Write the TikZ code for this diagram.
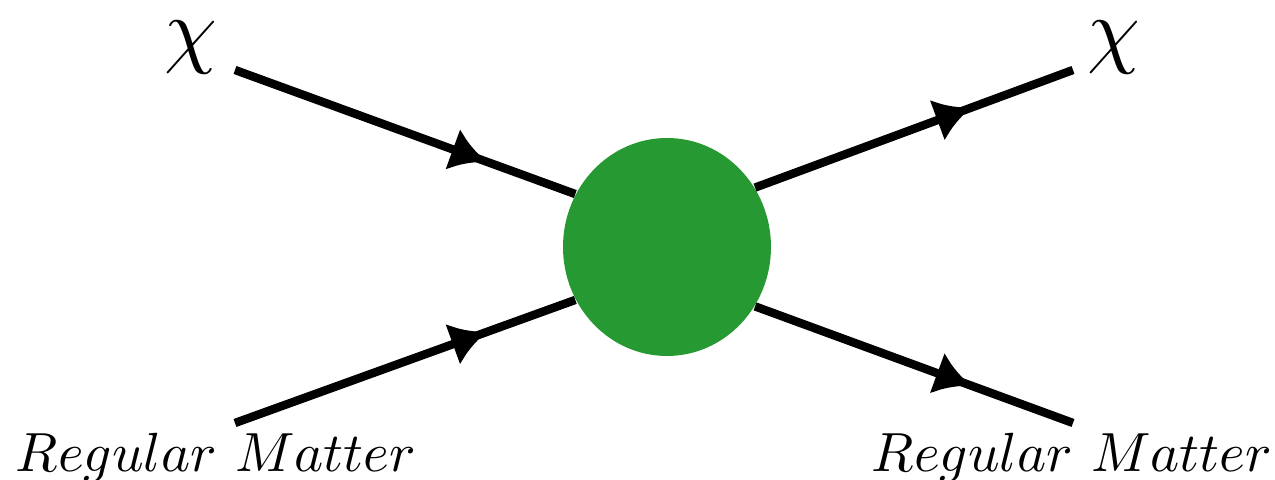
\documentclass[tikz,border=0pt]{standalone}
\usepackage{amsmath, amssymb}
\usepackage{tikz}
\usetikzlibrary{arrows.meta, positioning, shapes.geometric, decorations.markings}

\definecolor{blobgreen}{RGB}{38,153,50}

\begin{document}
\begin{tikzpicture}[
    leg/.style={line width=2.4pt, black},
    legarrow/.style={postaction={decorate, decoration={markings,
      mark=at position #1 with {\arrow{Latex[length=3.6mm, width=4.4mm]}}}}},
    chilabel/.style={scale=2.4, inner sep=0pt},
    matterlabel/.style={scale=1.57, inner sep=0pt, anchor=base}
  ]
  \useasboundingbox (0,0) rectangle (12.75,4.8);
  % interaction blob
  \node[ellipse, fill=blobgreen, minimum width=2.08cm, minimum height=2.18cm, inner sep=0pt] (blob) at (6.67,2.33) {};
  % external legs
  \coordinate (chiin) at (2.35,4.10);
  \coordinate (smin) at (2.35,0.57);
  \coordinate (chiout) at (10.73,4.10);
  \coordinate (smout) at (10.73,0.57);
  \draw[leg, legarrow=0.74] (chiin) -- (blob.150);
  \draw[leg, legarrow=0.74] (smin) -- (blob.210);
  \draw[leg, legarrow=0.68] (blob.34) -- (chiout);
  \draw[leg, legarrow=0.68] (blob.326) -- (smout);
  % labels
  \node[chilabel] (chiinlabel) at (1.91,4.32) {$\chi$};
  \node[chilabel] (chioutlabel) at (11.14,4.32) {$\chi$};
  \node[matterlabel] (sminlabel) at (2.16,0.08) {$Regular\ Matter$};
  \node[matterlabel] (smoutlabel) at (10.72,0.08) {$Regular\ Matter$};
\end{tikzpicture}
\end{document}
